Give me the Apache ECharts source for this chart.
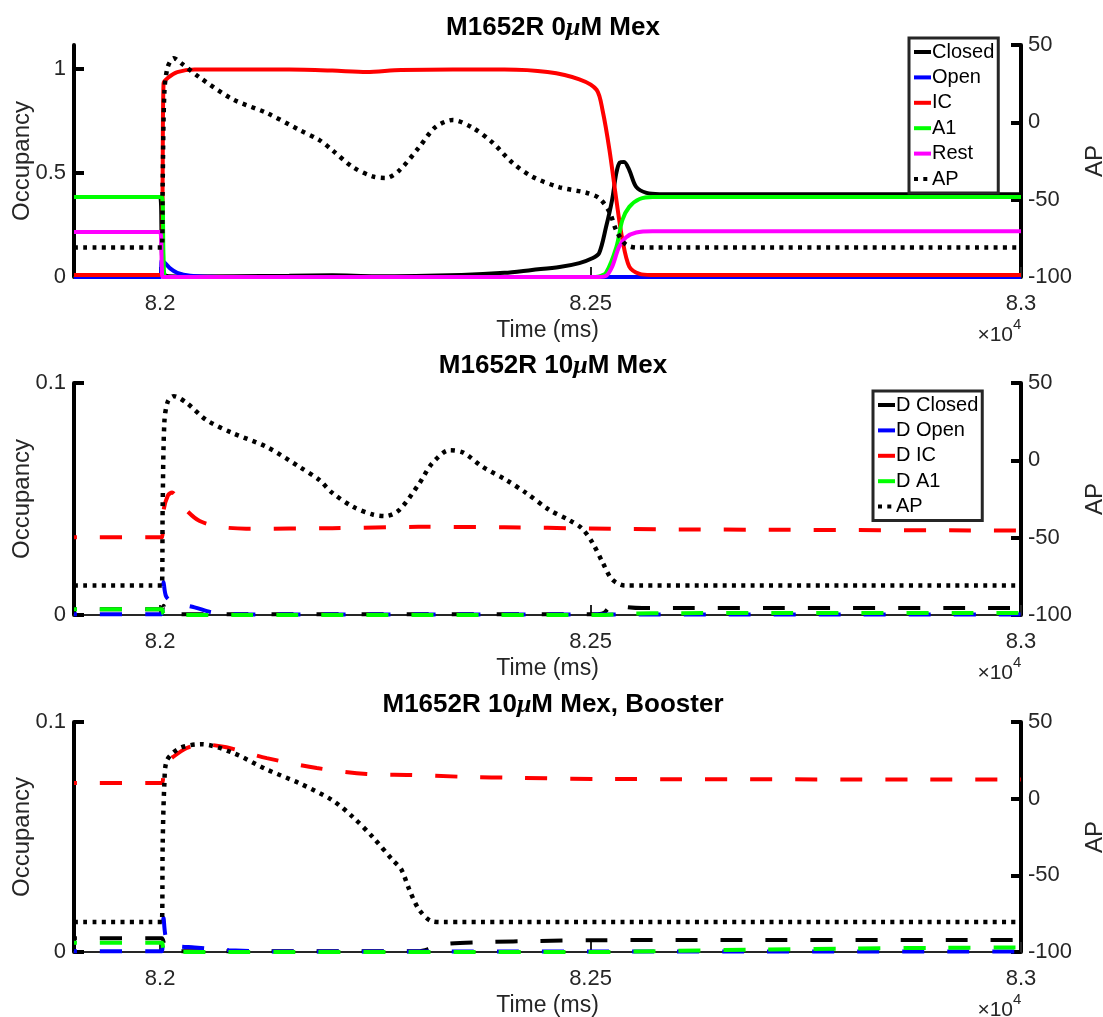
<!DOCTYPE html>
<html>
<head>
<meta charset="utf-8">
<script src="https://cdn.jsdelivr.net/npm/echarts@6/dist/echarts.min.js"></script>
<style>
  html, body { margin: 0; padding: 0; background: #fff; }
  #chart { width: 1103px; height: 1017px; }
</style>
</head>
<body>
<div id="chart"></div>
<script>
// time in ms, occupancy (left axis), AP in mV (right axis)
const timeTicks = [82000, 82500, 83000];
const occTicksTop = [0, 0.5, 1];
const occTicksDrug = [0, 0.1];

// panel 1: 0 uM Mex
const topClosed = [[81900,0.385],[82000,0.385],[82002,0.12],[82004,0.02],[82008,0.005],[82020,0.003],[82150,0.006],[82200,0.008],[82250,0.004],[82350,0.01],[82400,0.02],[82432,0.034],[82464,0.048],[82487,0.067],[82502,0.09],[82510,0.115],[82518,0.24],[82525,0.37],[82530,0.5],[82534,0.55],[82539,0.553],[82545,0.514],[82553,0.433],[82565,0.404],[82580,0.398],[82600,0.398],[83000,0.398]];
const topOpen = [[81900,0],[82000,0],[82002,0.08],[82005,0.07],[82012,0.04],[82020,0.02],[82035,0.006],[82060,0.001],[82080,0],[83000,0]];
const topIC = [[81900,0.01],[81990,0.01],[82002,0.01],[82003,0.5],[82004,0.93],[82010,0.96],[82020,0.985],[82040,0.997],[82150,0.997],[82200,0.992],[82240,0.985],[82280,0.995],[82400,0.997],[82450,0.985],[82487,0.95],[82507,0.9],[82514,0.8],[82522,0.61],[82530,0.37],[82537,0.18],[82545,0.05],[82557,0.015],[82570,0.01],[82590,0.01],[83000,0.01]];
const topA1 = [[81900,0.385],[81990,0.385],[82002,0.385],[82004,0.1],[82006,0],[82015,0],[82500,0],[82510,0.003],[82518,0.02],[82530,0.144],[82537,0.274],[82545,0.337],[82557,0.375],[82572,0.385],[82590,0.385],[83000,0.385]];
const topRest = [[81900,0.216],[81990,0.216],[82000,0.216],[82002,0.05],[82003,0],[82015,0],[82510,0],[82518,0.005],[82525,0.048],[82533,0.144],[82541,0.19],[82553,0.214],[82572,0.22],[82590,0.22],[83000,0.22]];
const topAP = [[81900,-81],[81990,-81],[82002,-81],[82003,-40],[82005,20],[82009,36],[82016,41.5],[82025,38],[82046,29],[82084,15],[82124,6],[82162,-5],[82185,-11.5],[82200,-18],[82224,-29],[82247,-35],[82262,-36],[82278,-31],[82301,-16],[82320,-3],[82340,1.5],[82363,-3.5],[82386,-13],[82409,-26],[82432,-35],[82464,-42],[82495,-45.5],[82510,-49],[82522,-58],[82530,-70],[82541,-79],[82555,-81],[82575,-81],[83000,-81]];

// panel 2: 10 uM Mex
const midClosed = [[81900,0.0025],[81990,0.0025],[82002,0.0025],[82004,0.004],[82007,0.0005],[82020,0.0003],[82505,0.0003],[82515,0.0008],[82521,0.003],[82527,0.0045],[82540,0.0035],[82560,0.003],[82580,0.003],[83000,0.003]];
const midOpen = [[81900,0.0003],[81990,0.0003],[82002,0.0003],[82004,0.0142],[82007,0.008],[82015,0.0055],[82040,0.0033],[82062,0.001],[82100,0.0002],[83000,0.0002]];
const midIC = [[81900,0.0335],[81990,0.0335],[82002,0.0335],[82004,0.045],[82009,0.0515],[82014,0.0528],[82021,0.05],[82031,0.045],[82046,0.0405],[82070,0.038],[82100,0.0372],[82200,0.0374],[82300,0.038],[82400,0.0378],[82500,0.0373],[82600,0.0369],[83000,0.0364]];
const midA1 = [[81900,0.0025],[81990,0.0025],[82002,0.0025],[82004,0.0005],[82007,0],[82020,0],[82510,0],[82540,0.0005],[82600,0.0008],[83000,0.0009]];
const midAP = [[81900,-81],[81990,-81],[82002,-81],[82003,-30],[82005,25],[82009,38],[82016,41.5],[82031,37],[82054,26],[82084,17.7],[82124,8.6],[82162,-4.3],[82185,-12.7],[82200,-21],[82224,-30],[82247,-35],[82262,-36],[82278,-32],[82301,-15],[82316,-2],[82336,6.5],[82352,5],[82374,-4],[82402,-12.7],[82425,-21],[82452,-32],[82475,-38.6],[82490,-44],[82502,-53],[82514,-66],[82525,-77],[82540,-81],[82560,-81],[83000,-81]];

// panel 3: 10 uM Mex, Booster
const botClosed = [[81900,0.006],[81990,0.006],[82002,0.006],[82005,0.003],[82009,0.0005],[82020,0.0003],[82300,0.0003],[82316,0.0018],[82332,0.0035],[82380,0.0043],[82440,0.0048],[82500,0.0051],[82600,0.0052],[83000,0.0052]];
const botOpen = [[81900,0.0003],[81990,0.0003],[82002,0.0003],[82004,0.0148],[82007,0.006],[82015,0.003],[82040,0.002],[82080,0.0008],[82150,0.0002],[83000,0.0002]];
const botIC = [[81900,0.0735],[81990,0.0735],[82002,0.0735],[82004,0.078],[82007,0.082],[82015,0.0848],[82031,0.0887],[82048,0.0903],[82077,0.089],[82124,0.0843],[82182,0.08],[82240,0.0774],[82290,0.077],[82350,0.0762],[82420,0.0757],[82520,0.0752],[83000,0.075]];
const botA1 = [[81900,0.004],[81990,0.004],[82002,0.004],[82004,0.001],[82007,0],[82020,0],[82500,0],[82600,0.0005],[82700,0.0011],[82800,0.0015],[82900,0.0018],[83000,0.002]];
const botAP = [[81900,-80.5],[81990,-80.5],[82002,-80.5],[82003,-30],[82005,10],[82008,25],[82023,33],[82048,35.5],[82084,30],[82124,19],[82162,10],[82200,-1],[82224,-12],[82247,-25],[82270,-40],[82280,-46],[82290,-60],[82301,-72.5],[82316,-80],[82330,-80.5],[82350,-80.5],[83000,-80.5]];

const FONT = '"Liberation Sans", Arial, sans-serif';
const TXT = '#262626';
const panels = [
  { top: 45, height: 232, occMax: 1.115, occTicks: occTicksTop, title: '0', extra: '' },
  { top: 383, height: 232, occMax: 0.1, occTicks: occTicksDrug, title: '10', extra: '' },
  { top: 722, height: 230, occMax: 0.1, occTicks: occTicksDrug, title: '10', extra: ', Booster' },
];

const chart = echarts.init(document.getElementById('chart'), null, { renderer: 'canvas' });

function mkLine(name, data, color, kind, panel, right) {
  let lineType = 'solid';
  let width = 4;
  if (kind === 'dash') lineType = [22, 23];
  if (kind === 'dot') { lineType = [4, 5.3]; width = 4.5; }
  return {
    type: 'line', name, data,
    xAxisIndex: panel, yAxisIndex: panel * 2 + (right ? 1 : 0),
    showSymbol: false, symbol: 'none', smooth: 0.3, clip: false,
    // every dashed line starts at the same phase, like matlab does
    lineStyle: { color, width, type: lineType, dashOffset: kind === 'dash' ? 19 : 0 },
    itemStyle: { color },
    emphasis: { disabled: true },
  };
}

const grid = panels.map((p) => ({ left: 74, right: 82, top: p.top, height: p.height, outerBoundsMode: 'none' }));
const xAxis = panels.map((p, i) => ({
  type: 'value', gridIndex: i, min: 81900, max: 83000,
  name: 'Time (ms)', nameLocation: 'middle', nameGap: 42,
  nameTextStyle: { fontSize: 23, color: TXT, fontFamily: FONT },
  axisLine: { show: true, lineStyle: { color: TXT, width: 2 } },
  axisTick: { show: true, inside: true, length: 10, customValues: timeTicks, lineStyle: { color: TXT, width: 2 } },
  axisLabel: {
    customValues: timeTicks, margin: 16, fontSize: 22, color: TXT, fontFamily: FONT,
    formatter: (v) => String(+(v / 10000).toFixed(3)),
  },
  splitLine: { show: false },
}));
const yAxis = [];
panels.forEach((p, i) => {
  yAxis.push({
    type: 'value', gridIndex: i, position: 'left', min: 0, max: p.occMax,
    name: 'Occupancy', nameLocation: 'middle', nameGap: 40, nameRotate: 90, nameMoveOverlap: false,
    nameTextStyle: { fontSize: 24, color: TXT, fontFamily: FONT },
    axisLine: { show: true, lineStyle: { color: '#000', width: 4 } },
    axisTick: { show: true, inside: true, length: 10, customValues: p.occTicks, lineStyle: { color: '#000', width: 4 } },
    axisLabel: { customValues: p.occTicks, margin: 8, fontSize: 22, color: TXT, fontFamily: FONT },
    splitLine: { show: false },
  });
  yAxis.push({
    type: 'value', gridIndex: i, position: 'right', min: -100, max: 50, interval: 50,
    name: 'AP', nameLocation: 'middle', nameGap: 60, nameRotate: 90,
    nameTextStyle: { fontSize: 24, color: TXT, fontFamily: FONT },
    axisLine: { show: true, lineStyle: { color: '#000', width: 4 } },
    axisTick: { show: true, inside: true, length: 10, lineStyle: { color: '#000', width: 4 } },
    axisLabel: { margin: 7, fontSize: 22, color: TXT, fontFamily: FONT },
    splitLine: { show: false },
  });
});

const series = [
  mkLine('Closed', topClosed, '#000000', 'solid', 0, false),
  mkLine('Open', topOpen, '#0000ff', 'solid', 0, false),
  mkLine('IC', topIC, '#ff0000', 'solid', 0, false),
  mkLine('A1', topA1, '#00ff00', 'solid', 0, false),
  mkLine('Rest', topRest, '#ff00ff', 'solid', 0, false),
  mkLine('AP', topAP, '#000000', 'dot', 0, true),
  mkLine('D Closed', midClosed, '#000000', 'dash', 1, false),
  mkLine('D Open', midOpen, '#0000ff', 'dash', 1, false),
  mkLine('D IC', midIC, '#ff0000', 'dash', 1, false),
  mkLine('D A1', midA1, '#00ff00', 'dash', 1, false),
  mkLine('AP', midAP, '#000000', 'dot', 1, true),
  mkLine('D Closed', botClosed, '#000000', 'dash', 2, false),
  mkLine('D Open', botOpen, '#0000ff', 'dash', 2, false),
  mkLine('D IC', botIC, '#ff0000', 'dash', 2, false),
  mkLine('D A1', botA1, '#00ff00', 'dash', 2, false),
  mkLine('AP', botAP, '#000000', 'dot', 2, true),
];

const legendBase = {
  orient: 'vertical', backgroundColor: '#fff', borderColor: '#262626', borderWidth: 3,
  padding: [4, 4, 4, 3], itemGap: 5.4, itemWidth: 17, itemHeight: 14,
  textStyle: { fontSize: 20, lineHeight: 20, color: '#000', fontFamily: FONT, padding: [0, 0, 0, -4] },
  lineStyle: { width: 4 }, itemStyle: { opacity: 0 }, selectedMode: false,
};
const solidIcon = (name) => ({ name, lineStyle: { type: 'solid', dashOffset: 0 } });
const legend = [
  Object.assign({}, legendBase, { left: 909, top: 38, data: ['Closed', 'Open', 'IC', 'A1', 'Rest', 'AP'] }),
  Object.assign({}, legendBase, {
    left: 873, top: 391,
    data: [solidIcon('D Closed'), solidIcon('D Open'), solidIcon('D IC'), solidIcon('D A1'), 'AP'],
  }),
];

const title = panels.map((p) => ({
  text: '{b|M1652R ' + p.title + '}{i|μ}{b|M Mex' + p.extra + '}',
  left: 548, top: p.top - 35, textAlign: 'center',
  textStyle: {
    rich: {
      b: { fontSize: 26, fontWeight: 'bold', color: '#000', fontFamily: FONT },
      i: { fontSize: 26, fontStyle: 'italic', color: '#000', fontFamily: '"Liberation Serif", serif' },
    },
  },
}));

const graphic = [];
panels.forEach((p) => {
  const base = p.top + p.height;
  graphic.push({ type: 'text', x: 1013, y: base + 58, style: { text: '×10', align: 'right', verticalAlign: 'middle', font: '21px ' + FONT, fill: TXT } });
  graphic.push({ type: 'text', x: 1013, y: base + 48, style: { text: '4', align: 'left', verticalAlign: 'middle', font: '15px ' + FONT, fill: TXT } });
});

chart.setOption({ animation: false, title, legend, grid, xAxis, yAxis, series, graphic });
</script>
</body>
</html>
